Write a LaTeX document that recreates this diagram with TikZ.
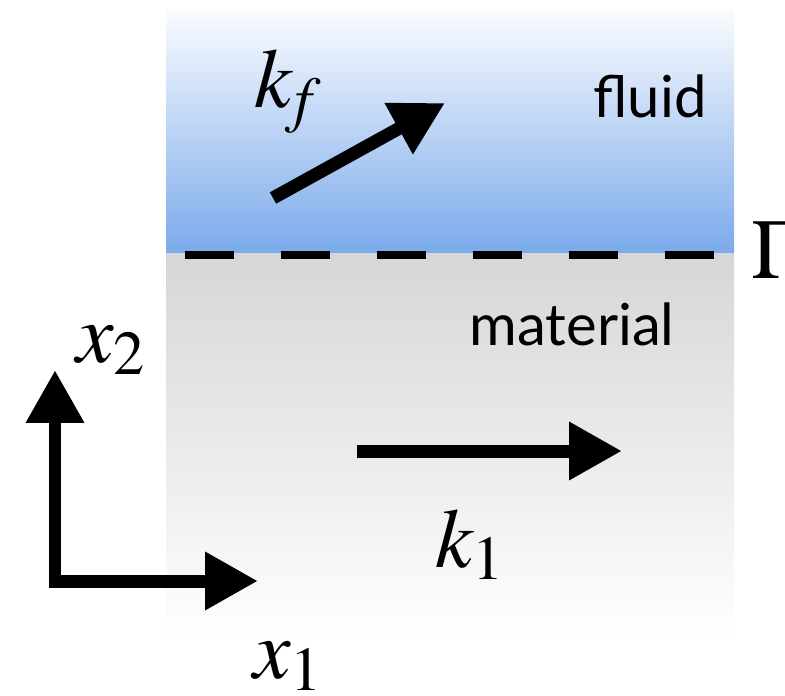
\documentclass[tikz,border=0pt]{standalone}
\usepackage{mathptmx}
\usepackage{fontspec}
\setsansfont{Lato}
\usetikzlibrary{
	positioning,
	arrows.meta
}
\definecolor{FluidBlue}{RGB}{123,170,235}
\definecolor{FluidTop}{RGB}{250,252,255}
\definecolor{SolidGray}{RGB}{214,214,214}

\begin{document}
\begin{tikzpicture}[
	x=0.02cm,y=-0.02cm,
	vec/.style={line width=0.26cm,-{Triangle[length=1.06cm,width=1.1cm]}},
	axes/.style={line width=0.26cm,line join=miter,{Triangle[length=1.06cm,width=1.1cm]}-{Triangle[length=1.06cm,width=1.1cm]}},
	mlabel/.style={inner sep=0pt,font=\fontsize{48}{56}\selectfont},
	region/.style={inner sep=0pt,font=\fontsize{33}{40}\selectfont\sffamily}
	]
	
	\useasboundingbox (0,0) rectangle (785,696);
	
	% fluid and material
	\shade[top color=FluidTop,bottom color=FluidBlue] (166,10) rectangle (734,253);
	\shade[top color=SolidGray,bottom color=white] (166,253) rectangle (734,641);
	
	% interface
	\coordinate (GL) at (185,255);
	\coordinate (GR) at (714,255);
	\draw[line width=0.16cm,dash pattern=on 0.98cm off 0.94cm] (GL) -- (GR);
	\node[mlabel,anchor=base west] (Gamma) at (751,278) {$\Gamma$};
	
	\node[region,anchor=base] (fluid) at (650,118) {fluid};
	\node[region,anchor=base] (material) at (572,345) {material};
	
	% wave vectors
	\coordinate (kfTail) at (273,198);
	\coordinate (kfTip) at (445,103);
	\draw[vec] (kfTail) -- (kfTip);
	\node[mlabel,anchor=base west] (kf) at (254,108) {$k_{\!f}$};
	
	\coordinate (kTail) at (357,451);
	\coordinate (kTip) at (622,451);
	\draw[vec] (kTail) -- (kTip);
	\node[mlabel,anchor=base west] (k1) at (435,567) {$k_1$};
	
	% axes
	\coordinate (xTwoTip) at (55,370);
	\coordinate (xOneTip) at (258,581);
	\draw[axes] (xTwoTip) |- (xOneTip);
	\node[mlabel,anchor=base west] (xTwo) at (76,362) {$x_2$};
	\node[mlabel,anchor=base west] (xOne) at (253,678) {$x_1$};
	
\end{tikzpicture}
\end{document}
